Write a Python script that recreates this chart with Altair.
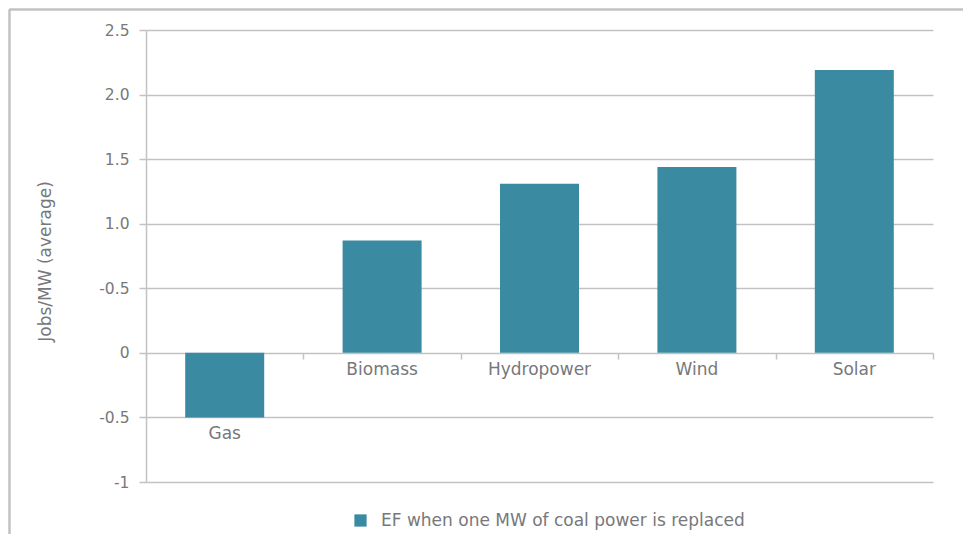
import altair as alt
import pandas as pd

categories = ["Gas", "Biomass", "Hydropower", "Wind", "Solar"]
values = [-0.5, 0.87, 1.31, 1.44, 2.19]
series_name = "EF when one MW of coal power is replaced"
y_ticks = [-1, -0.5, 0, 0.5, 1, 1.5, 2, 2.5]

df = pd.DataFrame({"category": categories, "value": values, "series": series_name})
df["label_y"] = df["value"].clip(upper=0)

GRAY = "#c2c2c4"
TEXT = "#77787b"
BAR = "#3a8aa2"
FONT = "DejaVu Sans"

x_enc = alt.X("category:N", sort=categories, title=None,
              scale=alt.Scale(paddingInner=0, paddingOuter=0),
              axis=alt.Axis(labels=False, domain=False, ticks=True, tickBand="extent",
                            tickSize=6, tickColor=GRAY, tickWidth=1.5, offset=-129,
                            grid=False))
y_scale = alt.Scale(domain=[-1, 2.5], nice=False)

label_expr = ("datum.value == 0.5 ? '-0.5' : (datum.value == 0 ? '0' : "
              "(datum.value == -1 ? '-1' : (datum.value == -0.5 ? '-0.5' : "
              "format(datum.value, '.1f'))))")

bars = alt.Chart(df).mark_bar(width=79).encode(
    x=x_enc,
    y=alt.Y("value:Q", scale=y_scale, title="Jobs/MW (average)",
            axis=alt.Axis(values=y_ticks, labelExpr=label_expr,
                          grid=True, gridColor=GRAY, gridWidth=1.5,
                          domainColor=GRAY, domainWidth=1.5,
                          tickColor=GRAY, tickWidth=1.5, tickSize=7,
                          labelColor=TEXT, labelFont=FONT, labelFontSize=15.5,
                          labelPadding=10,
                          titleColor=TEXT, titleFont=FONT, titleFontSize=17,
                          titleFontWeight="normal", titleAngle=-90,
                          titleX=-101, titleY=231, titleAlign="center",
                          titleBaseline="middle")),
    color=alt.Color("series:N", scale=alt.Scale(range=[BAR]),
                    legend=alt.Legend(title=None, orient="none", legendX=206, legendY=482,
                                      symbolType="square", symbolSize=150,
                                      symbolStrokeWidth=0, labelFont=FONT,
                                      labelFontSize=17, labelColor=TEXT,
                                      labelOffset=12, labelLimit=600)),
)

labels = alt.Chart(df).mark_text(baseline="middle", dy=17, font=FONT, fontSize=17,
                                 color=TEXT).encode(
    x=alt.X("category:N", sort=categories),
    y=alt.Y("label_y:Q", scale=y_scale),
    text="category:N",
)

frame_top = alt.Chart(df).mark_rule(color=GRAY, strokeWidth=1.5).encode(
    x=alt.value(-136.5), x2=alt.value(830), y=alt.value(-20.5))
frame_left = alt.Chart(df).mark_rule(color=GRAY, strokeWidth=1.5).encode(
    x=alt.value(-136.5), y=alt.value(-20.5), y2=alt.value(540))

chart = alt.layer(bars, labels, frame_top, frame_left).properties(
    width=787, height=452,
    autosize=alt.AutoSizeParams(type="none"),
    padding={"left": 138, "top": 22, "right": 30, "bottom": 52},
).configure_view(stroke=None)

chart.save("out.html", embed_options={"renderer": "svg", "actions": False})
